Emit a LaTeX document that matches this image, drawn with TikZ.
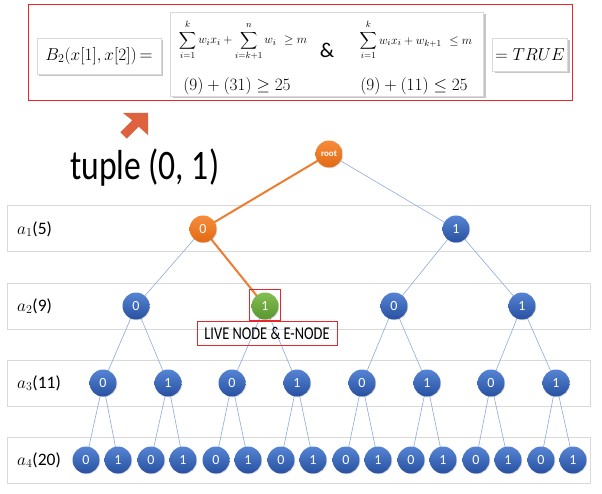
\documentclass[tikz,border=0pt]{standalone}
\usepackage{fontspec}
\usepackage{amsmath}
\newfontfamily\carl{Carlito}
\newfontfamily\narrowfont[FakeStretch=0.8]{Carlito}
\usetikzlibrary{shadows}
\definecolor{ballblueT}{RGB}{86,132,212}
\definecolor{ballblueB}{RGB}{40,80,160}
\definecolor{ballorT}{RGB}{245,140,60}
\definecolor{ballorB}{RGB}{226,106,20}
\definecolor{ballgrT}{RGB}{130,190,80}
\definecolor{ballgrB}{RGB}{90,150,50}
\definecolor{edgeblue}{RGB}{142,170,219}
\definecolor{pathorange}{RGB}{237,125,49}
\definecolor{rowgray}{RGB}{217,217,217}
\definecolor{boxred}{RGB}{232,38,43}
\definecolor{arrowcoral}{RGB}{222,98,62}
\newcommand{\uplim}[1]{\raisebox{1.5pt}{$\scriptstyle #1$}}
\tikzset{
  ball/.style={circle, minimum size=27pt, inner sep=0pt, text=white,
    font=\carl\fontsize{14}{14}\selectfont,
    drop shadow={opacity=0.25, shadow xshift=0.8pt, shadow yshift=-0.8pt}},
  blueball/.style={ball, top color=ballblueT, bottom color=ballblueB},
  orangeball/.style={ball, top color=ballorT, bottom color=ballorB},
  greenball/.style={ball, top color=ballgrT, bottom color=ballgrB},
  rowbox/.style={draw=rowgray, line width=1pt},
  rowlabel/.style={anchor=west, inner sep=0pt, font=\carl\fontsize{17.5}{18}\selectfont},
  edge/.style={draw=edgeblue, line width=0.6pt},
  hotedge/.style={draw=pathorange, line width=2pt},
  redbox/.style={draw=boxred, line width=1pt},
  formbox/.style={draw=white!85!black, line width=0.4pt, fill=white,
    drop shadow={opacity=0.45, shadow xshift=2pt, shadow yshift=-2pt}},
  plain/.style={inner sep=0pt}
}
\begin{document}
\begin{tikzpicture}[x=1pt,y=-1pt]
\useasboundingbox[fill=white] (0,0) rectangle (602,494);

% ---- formula area ----
\node[redbox, minimum width=544pt, minimum height=96pt, inner sep=0pt] (redframe) at (300,53) {};
\node[formbox, minimum width=124pt, minimum height=36pt, inner sep=0pt] (bbox) at (99,56)
  {\fontsize{18}{20}\selectfont $B_2(x[1],x[2])$\,={}};
\node[formbox, minimum width=313pt, minimum height=84pt, inner sep=0pt] (mainbox) at (327,54) {};
\node[formbox, minimum width=75pt, minimum height=33pt, inner sep=0pt] (tbox) at (530,55)
  {\fontsize{18}{20}\selectfont $=TRUE$};
\node[plain] (f1) at (243,40) {\fontsize{13}{15}\selectfont $\displaystyle\sum_{i=1}^{\uplim{k}} w_i x_i + \sum_{i=k+1}^{\uplim{n}} w_i\ \geq m$};
\node[plain] (amp) at (327,50) {\carl\fontsize{21}{21}\selectfont \&};
\node[plain] (f2) at (416,40) {\fontsize{13}{15}\selectfont $\displaystyle\sum_{i=1}^{\uplim{k}} w_i x_i + w_{k+1}\ \leq m$};
\node[plain] (g1) at (237,86) {\fontsize{17}{20}\selectfont $(9)+(31)\geq 25$};
\node[plain] (g2) at (414,86) {\fontsize{17}{20}\selectfont $(9)+(11)\leq 25$};

% ---- arrow and tuple ----
\fill[arrowcoral] (148,113) -- (123,113) -- (132.3,120.3) -- (120.3,132.3)
  -- (126.7,138.7) -- (138.7,126.7) -- (148,135) -- cycle;
\node[plain, anchor=base west] (tuple) at (70,180) {\narrowfont\fontsize{42}{42}\selectfont tuple (0, 1)};

% ---- row boxes ----
\draw[rowbox] (7,206) rectangle (590,252);
\draw[rowbox] (7,283) rectangle (590,329);
\draw[rowbox] (7,360) rectangle (590,406);
\draw[rowbox] (7,437) rectangle (590,483);
\node[rowlabel] (l1) at (17,229) {$a_1$(5)};
\node[rowlabel] (l2) at (17,306) {$a_2$(9)};
\node[rowlabel] (l3) at (17,383) {$a_3$(11)};
\node[rowlabel] (l4) at (17,460) {$a_4$(20)};

% ---- node coordinates ----
\coordinate (r) at (329,154);
\coordinate (n1a) at (203,229);
\coordinate (n1b) at (456,229);
\coordinate (n2a) at (136,306);
\coordinate (n2b) at (265,306);
\coordinate (n2c) at (394,306);
\coordinate (n2d) at (522,306);
\foreach \x [count=\i] in {103,168,232,297,362,427,491,556}
  \coordinate (n3\i) at (\x,383);
\foreach \x [count=\i] in {86,118,151,183,216,248,281,313,346,378,411,443,476,508,541,573}
  \coordinate (n4\i) at (\x,460);

% ---- edges ----
\draw[edge] (r) -- (n1b);
\draw[edge] (n1a) -- (n2a);
\draw[edge] (n1b) -- (n2c);
\draw[edge] (n1b) -- (n2d);
\draw[edge] (n2a) -- (n31); \draw[edge] (n2a) -- (n32);
\draw[edge] (n2b) -- (n33); \draw[edge] (n2b) -- (n34);
\draw[edge] (n2c) -- (n35); \draw[edge] (n2c) -- (n36);
\draw[edge] (n2d) -- (n37); \draw[edge] (n2d) -- (n38);
\foreach \i in {1,...,8}{
  \pgfmathtruncatemacro{\ca}{2*\i-1}
  \pgfmathtruncatemacro{\cb}{2*\i}
  \draw[edge] (n3\i) -- (n4\ca);
  \draw[edge] (n3\i) -- (n4\cb);
}
\draw[hotedge] (r) -- (n1a) -- (n2b);

% ---- nodes ----
\node[orangeball, font=\carl\bfseries\fontsize{9}{9}\selectfont] (root) at (r) {root};
\node[orangeball] (a1L) at (n1a) {0};
\node[blueball] (a1R) at (n1b) {1};
\node[blueball] (a2A) at (n2a) {0};
\node[greenball] (a2B) at (n2b) {1};
\node[blueball] (a2C) at (n2c) {0};
\node[blueball] (a2D) at (n2d) {1};
\foreach \i in {1,...,8}{
  \pgfmathtruncatemacro{\v}{mod(\i+1,2)}
  \node[blueball] (b3\i) at (n3\i) {\v};
}
\foreach \i in {1,...,16}{
  \pgfmathtruncatemacro{\v}{mod(\i+1,2)}
  \node[blueball] (b4\i) at (n4\i) {\v};
}

% ---- live node marks ----
\node[redbox, minimum width=31pt, minimum height=31pt, inner sep=0pt] (livebox) at (265,304.5) {};
\node[redbox, minimum width=140pt, minimum height=24pt, inner sep=0pt,
  font=\narrowfont\fontsize{18}{18}\selectfont] (livelabel) at (267,333) {LIVE NODE \& E-NODE};
\end{tikzpicture}
\end{document}
